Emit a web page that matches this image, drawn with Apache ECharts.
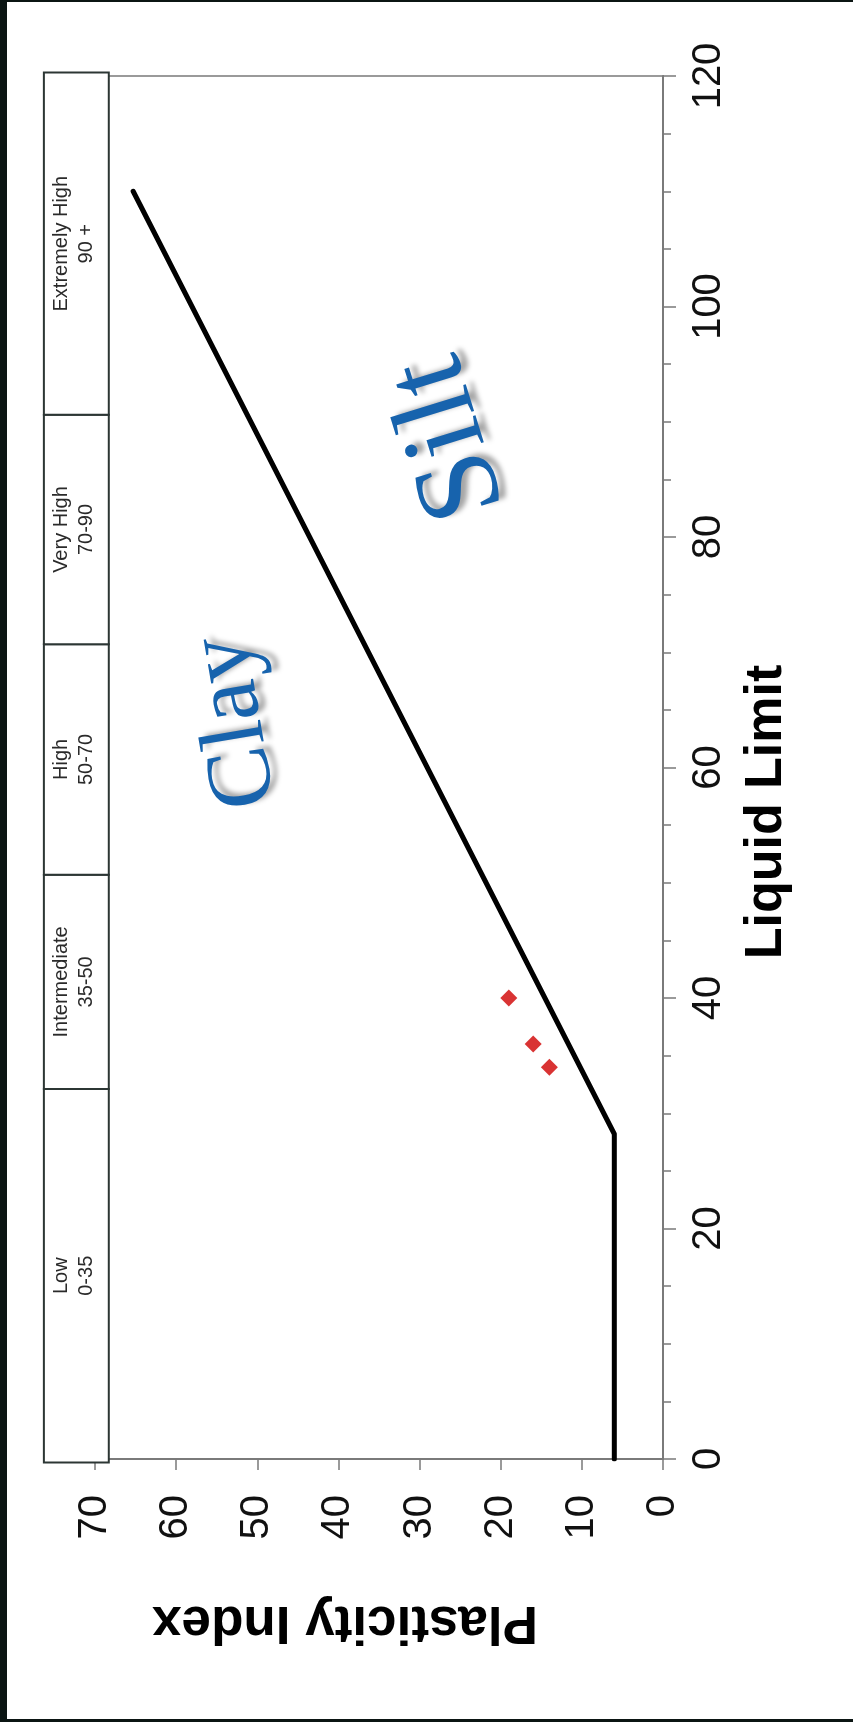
<!DOCTYPE html>
<html><head><meta charset="utf-8">
<script src="https://cdn.jsdelivr.net/npm/echarts@6/dist/echarts.min.js"></script>
<style>html,body{margin:0;padding:0;background:#fff}#chart{width:853px;height:1722px}</style>
</head><body><div id="chart"></div>
<script>
// A-line (Casagrande) vertices: Liquid Limit / Plasticity Index
const aLineLL = [0, 28.2, 110];
const aLinePI = [6, 6, 65.3];
// Sample points
const sampleLL = [34, 36, 40];
const samplePI = [14, 16, 19];
// Plasticity band (drawn over the chart edge)
const bandNames = ['Low\n0-35', 'Intermediate\n35-50', 'High\n50-70', 'Very High\n70-90', 'Extremely High\n90 +'];
const bandEdgesLL = [-0.3, 32.1, 50.7, 70.7, 90.6, 120.3];
const bandPI = [68.3, 76.3];
// Axis ranges
const piRange = [0, 70, 10];
const llRange = [0, 120, 20];

const chart = echarts.init(document.getElementById('chart'), null, {renderer: 'canvas'});
const sans = "'Liberation Sans', Arial, Helvetica, sans-serif";
const serif = "'Liberation Serif', 'Times New Roman', serif";
const axisGray = '#7a7a7a';

const lineData = aLineLL.map((ll, i) => [aLinePI[i], ll]);
const pointData = sampleLL.map((ll, i) => [samplePI[i], ll]);
const bandData = bandNames.map((n, i) => [bandPI[0], bandEdgesLL[i], bandPI[1], bandEdgesLL[i + 1]]);

chart.setOption({
  animation: false,
  backgroundColor: '#ffffff',
  grid: {left: 95, right: 190, top: 76, bottom: 263, show: true, borderColor: '#9a9a9a', borderWidth: 2, backgroundColor: 'transparent'},
  xAxis: {
    type: 'value', min: piRange[0], max: piRange[1], interval: piRange[2], inverse: true, position: 'bottom',
    axisLine: {show: true, onZero: false, lineStyle: {color: axisGray, width: 2}},
    axisTick: {show: true, length: 11, lineStyle: {color: axisGray, width: 1.5}},
    axisLabel: {rotate: 90, margin: 36, fontSize: 40, color: '#111', fontFamily: sans},
    splitLine: {show: false}
  },
  yAxis: {
    type: 'value', min: llRange[0], max: llRange[1], interval: llRange[2], position: 'right',
    axisLine: {show: true, onZero: false, lineStyle: {color: axisGray, width: 2}},
    axisTick: {show: true, length: 13, lineStyle: {color: axisGray, width: 1.5}},
    minorTick: {show: true, splitNumber: 4, length: 8, lineStyle: {color: axisGray, width: 1.5}},
    axisLabel: {rotate: 90, margin: 26, fontSize: 40, color: '#111', fontFamily: sans},
    splitLine: {show: false}
  },
  series: [
    {
      type: 'line', data: lineData, showSymbol: false, z: 3,
      lineStyle: {color: '#000', width: 5, cap: 'round', join: 'round'}
    },
    {
      type: 'scatter', data: pointData, symbol: 'diamond', symbolSize: 17, z: 4,
      itemStyle: {color: '#d00000'}
    },
    {
      type: 'custom', data: bandData, clip: false, z: 5,
      encode: {x: [0, 2], y: [1, 3]},
      renderItem: function (params, api) {
        const a = api.coord([api.value(2), api.value(3)]);
        const b = api.coord([api.value(0), api.value(1)]);
        const x = Math.min(a[0], b[0]), y = Math.min(a[1], b[1]);
        const w = Math.abs(b[0] - a[0]), h = Math.abs(b[1] - a[1]);
        return {
          type: 'group',
          children: [
            {type: 'rect', shape: {x: x, y: y, width: w, height: h},
             style: {fill: '#ffffff', stroke: '#2c3634', lineWidth: 2}},
            {type: 'text', x: x + w / 2 - 2, y: y + h / 2, rotation: Math.PI / 2,
             style: {text: bandNames[params.dataIndex], align: 'center', verticalAlign: 'middle',
                     fontSize: 20, lineHeight: 25, fontFamily: sans, fill: '#2a2a2a'}}
          ]
        };
      }
    }
  ],
  graphic: [
    {type: 'rect', z: 100, shape: {x: 0, y: 0, width: 7, height: 1722}, style: {fill: '#0b1513'}},
    {type: 'rect', z: 100, shape: {x: 0, y: 0, width: 853, height: 2}, style: {fill: '#0b1513'}},
    {type: 'rect', z: 100, shape: {x: 0, y: 1719, width: 853, height: 3}, style: {fill: '#0b1513'}},
    {type: 'text', z: 50, x: 767, y: 812, rotation: Math.PI / 2,
     style: {text: 'Liquid Limit', align: 'center', verticalAlign: 'middle', fontSize: 52, fontWeight: 'bold', fontFamily: sans, fill: '#000'}},
    {type: 'text', z: 50, x: 345, y: 1622, rotation: Math.PI,
     style: {text: 'Plasticity Index', align: 'center', verticalAlign: 'middle', fontSize: 53, fontWeight: 'bold', fontFamily: sans, fill: '#000'}},
    {type: 'text', z: 50, x: 236, y: 722, rotation: Math.PI / 2 + 0.17,
     style: {text: 'Clay', align: 'center', verticalAlign: 'middle', fontSize: 92, fontFamily: serif, fill: '#1763ad',
             textShadowColor: 'rgba(0,0,0,0.35)', textShadowBlur: 5, textShadowOffsetX: 7, textShadowOffsetY: -3}},
    {type: 'text', z: 50, x: 450, y: 438, rotation: Math.PI / 2 + 0.3,
     style: {text: 'Silt', align: 'center', verticalAlign: 'middle', fontSize: 118, fontFamily: serif, fill: '#1763ad',
             textShadowColor: 'rgba(0,0,0,0.35)', textShadowBlur: 5, textShadowOffsetX: 7, textShadowOffsetY: -3}}
  ]
});
</script>
</body></html>
